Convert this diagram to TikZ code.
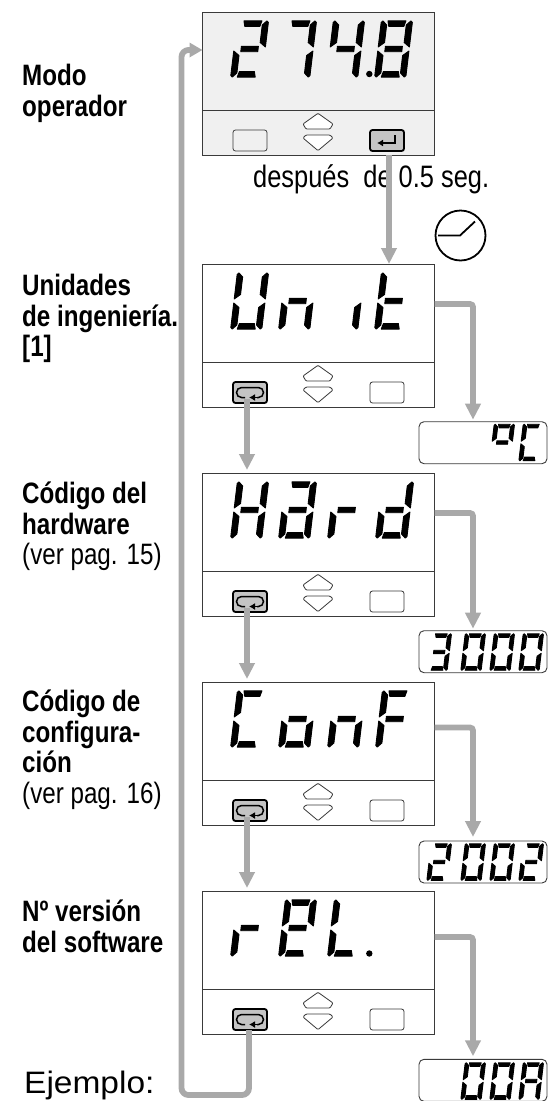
\documentclass[tikz,border=0pt]{standalone}
\usepackage{fontspec}
\usepackage{xcolor}
\usetikzlibrary{positioning, arrows.meta, calc}
\setmainfont[FakeStretch=0.82]{Liberation Sans}
\newfontfamily\widefont[FakeStretch=1.08]{Liberation Sans}

\definecolor{flowgray}{HTML}{A9A9A9}
\definecolor{panelgray}{HTML}{F0F0F0}
\definecolor{keygray}{HTML}{C4C4C4}
\definecolor{edgegray}{HTML}{3A3A3A}

\tikzset{
  panel/.style={rectangle, draw=edgegray, fill=white, line width=0.9pt, minimum width=232pt, minimum height=143pt, outer sep=0pt},
  valbox/.style={rectangle, draw=edgegray, fill=white, line width=0.9pt, rounded corners=5pt, minimum width=128pt, minimum height=42pt, outer sep=0pt},
  plainkey/.style={rectangle, draw=edgegray, fill=white, line width=0.8pt, rounded corners=2.5pt, minimum width=34pt, minimum height=21pt, outer sep=0pt},
  activekey/.style={rectangle, draw=black, fill=keygray, line width=1.8pt, rounded corners=2.5pt, minimum width=34pt, minimum height=21pt, outer sep=0pt},
  flow/.style={draw=flowgray, line width=5.8pt, -{Triangle[length=16pt, width=15pt]}},
  segstyle/.style={fill=black, draw=black, line width=0.9pt, line join=round},
  glyph/.style={draw=black, line width=1.5pt},
  sidetxt/.style={anchor=north west, align=left, inner sep=0pt, font=\fontsize{29.5}{30.5}\selectfont},
  updown/.pic={
    \draw [edgegray, line width=0.8pt, rounded corners=1pt, fill=white] (-0.5,29.8) -- (14.5,40.5) -- (11.5,45.5) -- (-12.5,45.5) -- (-15.5,40.5) -- cycle;
    \draw [edgegray, line width=0.8pt, rounded corners=1pt, fill=white] (-0.5,67.1) -- (14.5,54.5) -- (11.5,51.5) -- (-12.5,51.5) -- (-15.5,54.5) -- cycle;
  },
  loopmark/.pic={
    \draw [glyph, rounded corners=5pt] (-5,5) -- (-13.5,5) -- (-13.5,-5) -- (13.5,-5) -- (13.5,5) -- (7,5);
    \draw [glyph, -{Latex[length=6pt, width=7pt]}] (8,5) -- (-1,5);
  },
  entermark/.pic={
    \draw [glyph, -{Latex[length=6pt, width=7pt]}] (8,-5.5) -- (8,2.5) -- (-10,2.5);
  },
}

% segments of one display digit, 32 wide and 57 high
\newcommand{\sega}{(7,0.4) -- (25,0.4) -- (23.5,6) -- (8.5,6) -- cycle}
\newcommand{\segb}{(31.6,26.5) -- (25.8,22) -- (25.8,4.5) -- (30,0.4) -- (31.6,2) -- cycle}
\newcommand{\segc}{(31.6,30.5) -- (25.8,35) -- (25.8,52.5) -- (30,56.6) -- (31.6,55) -- cycle}
\newcommand{\segd}{(8.5,51) -- (23.5,51) -- (25,56.6) -- (7,56.6) -- cycle}
\newcommand{\sege}{(0.4,30.5) -- (6.2,35) -- (6.2,52.5) -- (2,56.6) -- (0.4,55) -- cycle}
\newcommand{\segf}{(0.4,26.5) -- (6.2,22) -- (6.2,4.5) -- (2,0.4) -- (0.4,2) -- cycle}
\newcommand{\segg}{(7.5,25.8) -- (24.5,25.8) -- (24.5,31.2) -- (7.5,31.2) -- cycle}
\newcommand{\segfill}[1]{\path [segstyle] #1;}
\newcommand{\segdigit}[4][1]{%
  \begin{scope}[shift={(#2,#3)}, scale=#1, xslant=0.12]
    \foreach \s in {#4} {\expandafter\segfill\expandafter{\csname seg\s\endcsname}}
  \end{scope}}

\begin{document}
\begin{tikzpicture}[x=1pt, y=-1pt]
\useasboundingbox (0,0) rectangle (550,1101);

\node [panel, fill=panelgray] (oper) at (318.5,83.5) {};
\node [panel] (unit) at (318.5,335.5) {};
\node [panel] (hard) at (318.5,544.5) {};
\node [panel] (conf) at (318.5,753.5) {};
\node [panel] (rel) at (318.5,962.5) {};

\node [plainkey, fill=panelgray] (operleft) at ([shift={(-68.5,57)}]oper.center) {};
\node [activekey] (operkey) at ([shift={(68.5,57)}]oper.center) {};
\node [activekey] (unitkey) at ([shift={(-68.5,57)}]unit.center) {};
\node [plainkey] (unitright) at ([shift={(68.5,57)}]unit.center) {};
\node [activekey] (hardkey) at ([shift={(-68.5,57)}]hard.center) {};
\node [plainkey] (hardright) at ([shift={(68.5,57)}]hard.center) {};
\node [activekey] (confkey) at ([shift={(-68.5,57)}]conf.center) {};
\node [plainkey] (confright) at ([shift={(68.5,57)}]conf.center) {};
\node [activekey] (relkey) at ([shift={(-68.5,57)}]rel.center) {};
\node [plainkey] (relright) at ([shift={(68.5,57)}]rel.center) {};

\foreach \p in {oper, unit, hard, conf, rel} {
  \draw [edgegray, line width=0.9pt] ([yshift=-27pt]\p.west) -- ([yshift=-27pt]\p.east);
  \pic at (\p.center) {updown};
}
\foreach \k in {unitkey, hardkey, confkey, relkey} {\pic at (\k.center) {loopmark};}
\pic at (operkey.center) {entermark};

\node [valbox] (unitval) at (483,442.7) {};
\node [valbox] (hardval) at (483,651.7) {};
\node [valbox] (confval) at (483,862) {};
\node [valbox] (relval) at (483,1080.3) {};

% long way back to the top panel
\coordinate (turn) at (181.5,1095);
\draw [flow, rounded corners=7pt, -{Triangle[length=13pt, width=14pt]}] ([xshift=-1pt]relkey.south) |- (turn) |- ([yshift=33.5pt]oper.west);

\node [sidetxt] (opertxt) at (22,64) {\bfseries Modo\\\bfseries operador};
\node [sidetxt] (unittxt) at (22,274) {\bfseries Unidades\\\bfseries de ingeniería.\\\bfseries [1]};
\node [sidetxt] (hardtxt) at (22,482) {\bfseries Código del\\\bfseries hardware\\(ver pag. 15)};
\node [sidetxt] (conftxt) at (22,690) {\bfseries Código de\\\bfseries configura-\\\bfseries ción\\(ver pag. 16)};
\node [sidetxt] (reltxt) at (22,900) {\bfseries Nº versión\\\bfseries del software};
\node [sidetxt, font=\widefont\fontsize{31}{34}\selectfont] (exampletxt) at (24,1071) {Ejemplo:};
\node [sidetxt, font=\fontsize{31}{32}\selectfont] (delaytxt) at (253,164) {después\ \ de 0.5 seg.};

\node [circle, draw=black, line width=1.8pt, minimum size=50pt, outer sep=0pt] (clock) at (460.5,235.5) {};
\draw [black, line width=1.8pt] ([xshift=-22.5pt]clock.center) -- ++(22,0) -- ++(15,-14);

\draw [flow] ([xshift=2pt]operkey.south |- oper.south) -- ([xshift=2pt]operkey.south |- unit.north);
\draw [flow] ([xshift=-3pt, yshift=4pt]unitkey.south) -- ([xshift=-3pt, yshift=3pt]unitkey.south |- hard.north);
\draw [flow] ([xshift=-3pt, yshift=4pt]hardkey.south) -- ([xshift=-3pt, yshift=3pt]hardkey.south |- conf.north);
\draw [flow] ([xshift=-3pt, yshift=4pt]confkey.south) -- ([xshift=-3pt, yshift=3pt]confkey.south |- rel.north);

\draw [flow, rounded corners=3pt] ([yshift=31.5pt]unit.east) -| ([xshift=-10pt, yshift=2pt]unitval.north);
\draw [flow, rounded corners=3pt] ([yshift=31.5pt]hard.east) -| ([xshift=-10pt, yshift=2pt]hardval.north);
\draw [flow, rounded corners=3pt] ([yshift=26pt]conf.east) -| ([xshift=-10pt, yshift=4pt]confval.north);
\draw [flow, rounded corners=3pt] ([yshift=25.5pt]rel.east) -| ([xshift=-10pt, yshift=3pt]relval.north);

% readings on the panels
\segdigit{237}{20.5}{a,b,g,e,d}
\segdigit{285}{20.5}{a,b,c}
\segdigit{333}{20.5}{f,g,b,c}
\segdigit{381}{20.5}{a,b,c,d,e,f,g}
\fill [black] (369.3,74) circle (3.2);

\segdigit{237}{272.5}{f,e,d,c,b}
\segdigit{285}{272.5}{e,g,c}
\segdigit{333}{272.5}{c}
\segdigit{381}{272.5}{f,e,g,d}

\segdigit{237}{481.5}{f,e,g,b,c}
\segdigit{285}{481.5}{a,b,g,c,d,e}
\segdigit{334}{481.5}{e,g}
\segdigit{382}{481.5}{g,e,d,c,b}

\segdigit{237}{690.5}{a,f,e,d}
\segdigit{285}{690.5}{g,c,d,e}
\segdigit{334}{690.5}{e,g,c}
\segdigit{382}{690.5}{a,f,g,e}

\segdigit{237}{899.5}{e,g}
\segdigit{285}{899.5}{a,b,f,g,e,d}
\segdigit{334}{899.5}{f,e,d}
\fill [black] (369.3,953.5) circle (3.2);

% readings in the small boxes
\segdigit[0.65]{494}{424}{a,b,f,g}
\segdigit[0.65]{523}{424}{a,f,e,d}

\segdigit[0.65]{431}{633.5}{a,b,g,c,d}
\segdigit[0.65]{465}{633.5}{a,b,c,d,e,f}
\segdigit[0.65]{494}{633.5}{a,b,c,d,e,f}
\segdigit[0.65]{523}{633.5}{a,b,c,d,e,f}

\segdigit[0.65]{431}{843.5}{a,b,g,e,d}
\segdigit[0.65]{465}{843.5}{a,b,c,d,e,f}
\segdigit[0.65]{494}{843.5}{a,b,c,d,e,f}
\segdigit[0.65]{523}{843.5}{a,b,g,e,d}

\segdigit[0.65]{465}{1062.5}{a,b,c,d,e,f}
\segdigit[0.65]{494}{1062.5}{a,b,c,d,e,f}
\segdigit[0.65]{523}{1062.5}{a,b,c,e,f,g}
\end{tikzpicture}
\end{document}
